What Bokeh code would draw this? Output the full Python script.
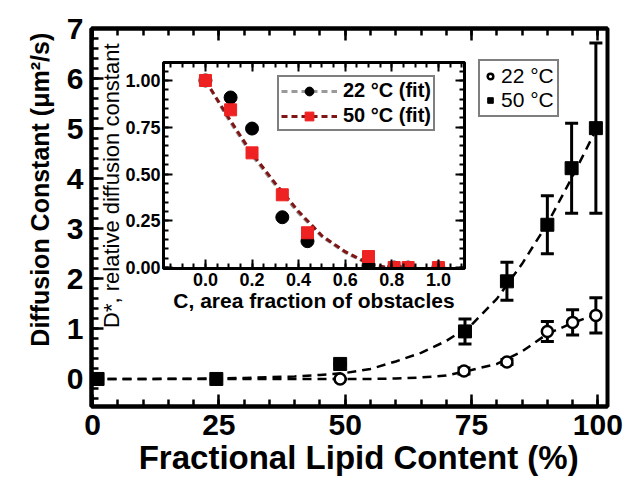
from bokeh.plotting import figure
from bokeh.models import (Range1d, LinearAxis, Whisker, TeeHead, ColumnDataSource, Label,
                          Legend, LegendItem, SingleIntervalTicker, NumeralTickFormatter,
                          CustomJSTickFormatter)
from bokeh.layouts import column
from bokeh.embed import file_html
from bokeh.resources import INLINE

# ---------------- main panel data ----------------
lipid_22 = [49, 73.5, 82, 90, 95, 99.6]
dc_22 = [0.0, 0.16, 0.34, 0.95, 1.13, 1.27]
err_22 = [0.0, 0.06, 0.05, 0.2, 0.25, 0.35]

lipid_50 = [1, 24.5, 49, 73.7, 82, 90, 94.8, 99.6]
dc_50 = [0.0, 0.0, 0.3, 0.95, 1.95, 3.08, 4.21, 5.01]
err_50 = [0.0, 0.0, 0.0, 0.25, 0.38, 0.58, 0.9, 1.7]

fit_lipid = [0, 10, 20, 30, 40, 45, 50, 55, 60, 65, 70, 75, 80, 85, 90, 95, 100]
fit_dc_50 = [0, 0, 0.005, 0.02, 0.05, 0.08, 0.12, 0.2, 0.35, 0.52, 0.76, 1.08, 1.6, 2.3, 3.1, 4.05, 5.05]
fit_dc_22 = [0, 0, 0, 0, 0, 0, 0, 0, 0.01, 0.03, 0.07, 0.18, 0.3, 0.55, 0.9, 1.12, 1.3]

# ---------------- inset data ----------------
area_frac = [0.0, 0.108, 0.2, 0.33, 0.438, 0.7, 0.81, 0.87, 1.0]
dstar_22 = [1.0, 0.909, 0.743, 0.269, 0.141, 0.01, 0.0, 0.0, 0.0]
dstar_50 = [1.0, 0.843, 0.613, 0.389, 0.186, 0.059, 0.0, 0.0, 0.0]
fit_frac = [0.0, 0.1, 0.2, 0.3, 0.4, 0.5, 0.6, 0.7, 0.78]
fit_dstar_22 = [1.0, 0.79, 0.6, 0.44, 0.29, 0.165, 0.08, 0.02, 0.0]
fit_dstar_50 = [1.0, 0.8, 0.61, 0.45, 0.3, 0.17, 0.085, 0.022, 0.0]

FONT = "Liberation Sans"
BLANK = CustomJSTickFormatter(code="return ''")
NBSP = "\u00a0"

# ---------------- main figure ----------------
p = figure(width=634, height=484, output_backend="svg", toolbar_location=None,
           x_range=Range1d(-0.2, 101.9), y_range=Range1d(-0.55, 7.0),
           min_border_left=91, min_border_right=27, min_border_top=28, min_border_bottom=78)
p.xgrid.visible = False
p.ygrid.visible = False
p.outline_line_color = "black"
p.outline_line_width = 4
p.background_fill_color = "white"


def style_axis(ax, fs, tick_major=12, tick_minor=7, lw=4, twidth=2.5):
    ax.axis_line_width = lw
    ax.axis_line_color = "black"
    ax.major_tick_in = tick_major
    ax.major_tick_out = 0
    ax.minor_tick_in = tick_minor
    ax.minor_tick_out = 0
    ax.major_tick_line_width = twidth
    ax.minor_tick_line_width = twidth
    ax.major_tick_line_color = "black"
    ax.minor_tick_line_color = "black"
    ax.major_label_text_font = FONT
    ax.major_label_text_font_style = "bold"
    ax.major_label_text_font_size = fs
    ax.major_label_text_color = "black"
    ax.axis_label_text_font = FONT
    ax.axis_label_text_font_style = "bold"
    ax.axis_label_text_color = "black"


xax = p.xaxis[0]
xax.ticker = SingleIntervalTicker(interval=25, num_minor_ticks=5)
style_axis(xax, "30px")
xax.major_label_standoff = 8
xax.axis_label = NBSP * 2 + "Fractional Lipid Content (%)"
xax.axis_label_text_font_size = "33px"
xax.axis_label_standoff = 1

yax = p.yaxis[0]
yax.ticker = SingleIntervalTicker(interval=1, num_minor_ticks=5)
style_axis(yax, "30px")
yax.major_label_standoff = 8
yax.axis_label = NBSP * 8 + "Diffusion Constant (μm²/s)"
yax.axis_label_text_font_size = "25px"
yax.axis_label_standoff = 10

top_ax = LinearAxis(ticker=SingleIntervalTicker(interval=25, num_minor_ticks=5), formatter=BLANK)
style_axis(top_ax, "10px")
top_ax.major_label_standoff = 0
p.add_layout(top_ax, "above")

# fits
p.line(fit_lipid, fit_dc_50, line_color="black", line_width=2.5, line_dash="9 6")
p.line(fit_lipid, fit_dc_22, line_color="black", line_width=2.5, line_dash="9 6")

src50 = ColumnDataSource(dict(x=lipid_50, y=dc_50,
                              lo=[a - b for a, b in zip(dc_50, err_50)],
                              hi=[a + b for a, b in zip(dc_50, err_50)]))
src22 = ColumnDataSource(dict(x=lipid_22, y=dc_22,
                              lo=[a - b for a, b in zip(dc_22, err_22)],
                              hi=[a + b for a, b in zip(dc_22, err_22)]))
for s in (src50, src22):
    p.add_layout(Whisker(source=s, base="x", lower="lo", upper="hi", line_width=3,
                         upper_head=TeeHead(size=13, line_width=3),
                         lower_head=TeeHead(size=13, line_width=3)))

r22 = p.scatter("x", "y", source=src22, marker="circle", size=11, fill_color="white",
                line_color="black", line_width=2.5)
r50 = p.scatter("x", "y", source=src50, marker="square", size=13, fill_color="black",
                line_color="black")

leg = Legend(items=[LegendItem(label="22 °C", renderers=[r22]),
                    LegendItem(label="50 °C", renderers=[r50])],
             location=(387, 289))
leg.label_text_font = FONT
leg.label_text_font_size = "21px"
leg.label_text_color = "black"
leg.border_line_color = "black"
leg.border_line_width = 2
leg.padding = 3
leg.spacing = 0
leg.margin = 0
leg.glyph_width = 14
leg.glyph_height = 24
leg.label_height = 24
leg.label_standoff = 4
leg.background_fill_alpha = 1
p.add_layout(leg, "center")

p.add_layout(Label(x=3.8, y=3.86, text="D*, relative diffusion constant", angle=1.5708,
                   text_align="center", text_baseline="middle", text_font=FONT,
                   text_font_size="22px", text_color="black"))

# ---------------- inset figure ----------------
q = figure(width=419, height=270, output_backend="svg", toolbar_location=None,
           x_range=Range1d(-0.18, 1.112), y_range=Range1d(-0.005, 1.096),
           min_border_left=62, min_border_right=7, min_border_top=14, min_border_bottom=50)
q.margin = (-436, 0, 0, 72)
q.xgrid.visible = False
q.ygrid.visible = False
q.outline_line_color = "black"
q.outline_line_width = 3
q.background_fill_color = "white"
q.border_fill_alpha = 0

qx = q.xaxis[0]
qx.ticker = SingleIntervalTicker(interval=0.2, num_minor_ticks=4)
qx.formatter = NumeralTickFormatter(format="0.0")
style_axis(qx, "18px", tick_major=9, tick_minor=5, lw=3, twidth=2)
qx.major_label_standoff = 4
qx.axis_label = "C, area fraction of obstacles"
qx.axis_label_text_font_size = "21px"
qx.axis_label_standoff = 0

qy = q.yaxis[0]
qy.ticker = SingleIntervalTicker(interval=0.25, num_minor_ticks=5)
qy.formatter = NumeralTickFormatter(format="0.00")
style_axis(qy, "18px", tick_major=9, tick_minor=5, lw=3, twidth=2)
qy.major_label_standoff = 3

q_top = LinearAxis(ticker=SingleIntervalTicker(interval=0.2, num_minor_ticks=4), formatter=BLANK)
style_axis(q_top, "10px", tick_major=9, tick_minor=5, lw=3, twidth=2)
q_top.major_label_standoff = 0
q.add_layout(q_top, "above")
q_right = LinearAxis(ticker=SingleIntervalTicker(interval=0.25, num_minor_ticks=5), formatter=BLANK)
style_axis(q_right, "10px", tick_major=9, tick_minor=5, lw=3, twidth=2)
q_right.major_label_standoff = 0
q.add_layout(q_right, "right")

l22 = q.line(fit_frac, fit_dstar_22, line_color="#9a9a9a", line_width=3, line_dash="6 4")
l50 = q.line(fit_frac, fit_dstar_50, line_color="#7f1515", line_width=3, line_dash="6 4")
c22 = q.scatter(area_frac, dstar_22, marker="circle", size=13, fill_color="black", line_color="black")
s50 = q.scatter(area_frac, dstar_50, marker="square", size=12, fill_color="#ee2222", line_color="#ee2222")

qleg = Legend(items=[LegendItem(label="22 °C (fit)", renderers=[l22, c22]),
                     LegendItem(label="50 °C (fit)", renderers=[l50, s50])],
              location=(114, 137))
qleg.label_text_font = FONT
qleg.label_text_font_style = "bold"
qleg.label_text_font_size = "20px"
qleg.label_text_color = "black"
qleg.border_line_color = "black"
qleg.border_line_width = 2.5
qleg.padding = 2
qleg.spacing = 2
qleg.margin = 0
qleg.glyph_width = 56
qleg.glyph_height = 22
qleg.label_height = 22
qleg.label_standoff = 6
q.add_layout(qleg, "center")

layout = column(p, q)
open("out.html", "w").write(file_html(layout, INLINE))
